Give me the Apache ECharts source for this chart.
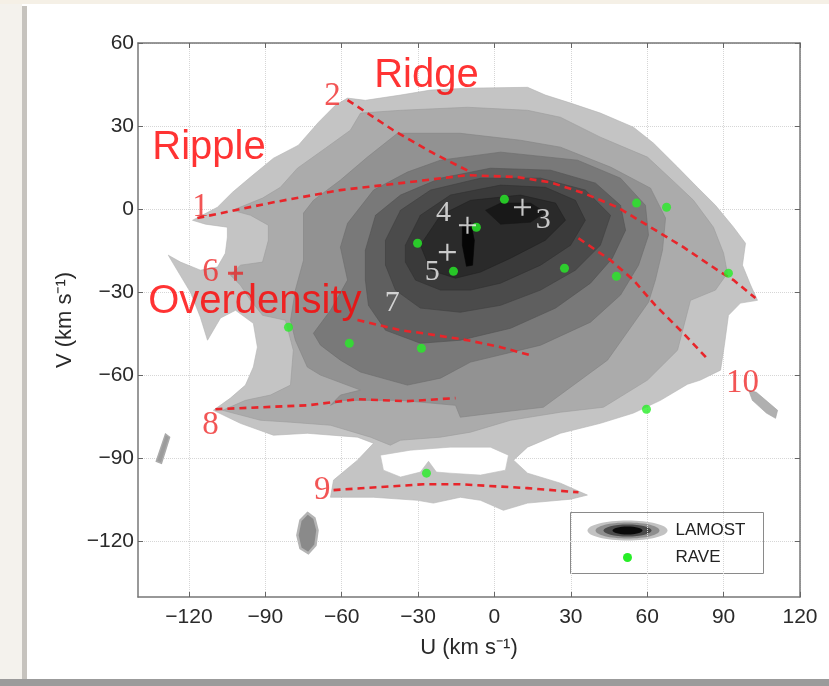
<!DOCTYPE html>
<html><head><meta charset="utf-8">
<script src="https://cdn.jsdelivr.net/npm/echarts@6/dist/echarts.min.js"></script>
<style>html,body{margin:0;padding:0;background:#fff}#c{width:829px;height:686px}</style>
</head><body><div id="c"></div>
<script>
// ---- axis ticks ----
const uTicks = [-120, -90, -60, -30, 0, 30, 60, 90, 120];
const vTicks = [-120, -90, -60, -30, 0, 30, 60];

// ---- LAMOST density contours (U, V in km/s), outer to inner ----
const contourL1 = [[-118.6,-4.0],[-108.8,0.7],[-102.9,6.1],[-95.8,11.6],[-86.8,18.4],[-77.0,23.1],[-69.1,31.4],[-62.5,37.5],[-57.7,40.1],[-50.7,39.3],[-36.9,41.2],[-25.1,43.0],[-10.6,43.7],[13.0,44.0],[20.0,41.2],[29.9,38.3],[41.6,34.7],[54.6,29.6],[62.5,23.8],[71.9,15.2],[79.7,7.9],[86.8,1.4],[93.9,-6.5],[98.6,-12.3],[97.4,-20.2],[100.6,-27.4],[103.3,-32.9],[96.6,-33.9],[91.9,-38.3],[90.3,-49.1],[88.8,-58.1],[80.9,-61.7],[75.8,-63.2],[65.2,-69.0],[54.6,-73.6],[41.6,-77.3],[25.9,-80.9],[13.0,-85.9],[7.5,-90.6],[13.0,-95.3],[25.9,-98.9],[36.5,-103.2],[29.9,-104.7],[13.0,-106.1],[3.5,-108.7],[-5.5,-105.1],[-13.4,-104.0],[-24.0,-106.1],[-30.2,-105.1],[-47.5,-104.0],[-64.4,-104.0],[-63.2,-97.8],[-53.8,-90.6],[-47.5,-84.5],[-53.8,-82.3],[-73.5,-80.9],[-86.8,-81.6],[-99.8,-77.3],[-110.4,-72.6],[-103.7,-68.2],[-97.8,-63.5],[-94.7,-57.0],[-93.1,-49.8],[-94.7,-41.2],[-101.7,-36.5],[-107.6,-39.3],[-112.7,-47.3],[-115.5,-39.0],[-119.4,-30.0],[-126.5,-19.1],[-128.1,-16.6],[-123.3,-19.1],[-115.5,-22.0],[-108.8,-20.9],[-105.7,-15.9],[-104.9,-10.1],[-104.9,-6.5],[-113.5,-5.4]];
const holeL1 = [[-44.8,-88.8],[-33.0,-87.0],[-17.3,-85.9],[-1.6,-85.9],[5.5,-88.8],[4.3,-94.2],[-5.5,-96.0],[-17.3,-95.3],[-22.8,-94.9],[-25.9,-91.0],[-29.1,-94.9],[-36.9,-96.7],[-43.6,-94.2]];
const contourL2 = [[-102.9,-0.4],[-91.1,4.0],[-84.1,7.9],[-77.4,14.8],[-66.4,22.0],[-56.6,28.5],[-52.6,34.7],[-36.9,35.7],[-10.6,36.8],[13.0,35.7],[25.9,33.2],[41.6,26.0],[60.1,18.8],[71.1,9.4],[78.2,3.2],[86.0,-6.5],[90.0,-15.9],[91.5,-23.1],[86.8,-29.2],[77.0,-32.9],[71.9,-50.9],[60.1,-61.7],[42.8,-71.5],[25.9,-73.3],[6.3,-76.2],[-9.4,-80.5],[-21.2,-82.3],[-36.9,-83.4],[-40.9,-85.2],[-48.7,-82.3],[-64.4,-78.0],[-80.1,-76.9],[-91.9,-76.2],[-106.8,-72.6],[-97.8,-69.0],[-88.0,-67.1],[-80.1,-63.5],[-79.0,-50.9],[-82.1,-40.1],[-91.1,-38.3],[-95.8,-32.9],[-99.8,-27.4],[-103.7,-23.8],[-99.8,-20.2],[-91.1,-19.1],[-88.8,-11.2],[-88.8,-5.8],[-95.8,-2.2]];
const contourL3 = [[-75.0,-1.4],[-71.1,3.2],[-60.5,10.5],[-49.9,18.8],[-38.1,27.4],[-13.4,27.4],[10.2,24.9],[25.9,22.4],[45.6,15.2],[61.3,7.6],[67.2,-3.2],[66.0,-14.8],[63.2,-25.6],[60.5,-33.6],[44.4,-54.5],[19.2,-71.5],[2.4,-73.3],[-13.4,-75.1],[-15.3,-70.8],[-36.9,-69.0],[-60.5,-69.0],[-64.4,-70.8],[-60.5,-67.1],[-52.6,-65.3],[-68.3,-59.9],[-73.5,-57.0],[-78.2,-47.3],[-80.1,-40.1],[-78.2,-29.2],[-75.0,-18.4]];
const contourL4 = [[-60.5,-13.7],[-57.7,-5.1],[-47.5,6.9],[-34.2,13.4],[-21.2,17.7],[2.4,20.6],[32.6,17.7],[49.5,11.2],[59.3,1.4],[60.5,-9.4],[56.6,-20.2],[49.5,-31.0],[37.7,-40.8],[18.1,-49.1],[-9.4,-55.2],[-21.2,-61.0],[-34.2,-63.5],[-52.6,-58.8],[-60.5,-54.5],[-68.3,-49.1],[-71.1,-44.8],[-64.4,-36.5],[-57.7,-25.6]];
const contourL5 = [[-50.7,-14.8],[-46.7,-2.2],[-36.9,5.1],[-21.2,11.2],[-1.6,14.8],[22.0,14.1],[39.7,9.4],[49.5,1.4],[51.5,-7.6],[46.3,-17.7],[37.7,-26.7],[24.0,-35.7],[6.3,-43.0],[-13.4,-47.3],[-29.1,-48.4],[-42.8,-43.7],[-49.5,-34.7],[-50.7,-25.6]];
const contourL6 = [[-42.8,-11.2],[-36.9,-0.4],[-25.1,6.9],[-5.5,11.2],[18.1,11.2],[35.7,6.9],[45.6,-2.2],[41.6,-13.0],[31.8,-22.0],[18.1,-29.2],[2.4,-34.7],[-13.4,-37.2],[-29.1,-35.7],[-38.9,-29.2],[-42.8,-20.2]];
const contourL7 = [[-35.0,-13.0],[-29.1,-2.2],[-17.3,5.1],[2.4,8.7],[20.0,7.9],[31.8,3.2],[35.7,-4.0],[29.9,-13.0],[18.1,-20.2],[2.4,-26.7],[-9.4,-29.2],[-21.2,-29.2],[-31.0,-25.6],[-35.0,-19.1]];
const contourL8 = [[-29.1,-13.0],[-21.2,-2.2],[-9.4,3.2],[10.2,5.1],[24.0,2.2],[27.9,-4.0],[20.0,-11.2],[6.3,-17.7],[-5.5,-22.7],[-15.3,-24.9],[-25.1,-22.0]];
const contourL9a = [[-3.5,-0.4],[2.4,2.2],[14.1,2.2],[20.0,-1.1],[14.1,-4.7],[2.4,-5.4]];
const contourL9b = [[-12.6,-5.8],[-9.4,-4.7],[-7.9,-11.2],[-8.6,-20.2],[-11.0,-20.6],[-12.6,-13.0]];
const blobSlash = [[-129.2,-81.2],[-127.6,-82.3],[-130.8,-91.7],[-132.8,-91.0]];
const blobTail = [[99.8,-65.3],[102.9,-66.1],[111.2,-72.6],[110.4,-75.5],[106.8,-73.6],[101.3,-69.0]];
const blobEllipse = [[-73.4,-109.7],[-70.7,-111.6],[-69.5,-115.9],[-70.3,-121.3],[-73.1,-124.2],[-76.2,-122.4],[-77.4,-117.7],[-76.2,-112.3]];

// ---- RAVE moving groups (green points) ----
const raveU = [-80.9, -57.0, -28.7, -30.2, -16.1, -7.1, 3.9, 27.5, 47.9, 55.8, 67.6, 91.9, 59.7, -26.7];
const raveV = [-42.6, -48.4, -50.2, -12.3, -22.4, -6.5, 3.6, -21.3, -24.2, 2.2, 0.7, -23.1, -72.2, -95.3];

// ---- cross markers ----
const whiteCrosses = [[11.0, 0.7], [-10.6, -5.8], [-18.5, -15.5]];
const redCrosses = [[-101.7, -23.1]];

// ---- dashed structures ----
const line1 = [[-116.7,-3.2],[-86.8,2.5],[-60.5,6.9],[-34.2,9.7],[-10.6,12.3],[9.0,11.6],[22.0,9.7],[35.0,5.8],[48.3,0.7],[61.3,-6.5],[74.2,-13.7],[87.6,-22.0],[93.9,-25.6],[102.5,-32.1]];
const line2 = [[-57.7,39.4],[-39.7,28.5],[-24.0,20.2],[-9.4,13.4]];
const line7 = [[-53.8,-40.0],[-36.9,-43.7],[-27.9,-44.8],[-10.6,-47.3],[2.4,-49.8],[14.1,-52.7]];
const line8 = [[-109.6,-72.2],[-73.4,-70.8],[-53.8,-68.6],[-34.2,-69.3],[-15.3,-68.2]];
const line9 = [[-63.2,-101.4],[-27.9,-99.3],[-13.4,-99.3],[13.0,-100.7],[33.0,-102.2]];
const line10 = [[33.0,-10.5],[45.6,-18.4],[54.6,-25.6],[63.2,-34.7],[74.2,-44.8],[84.1,-54.5]];

// ---- annotations [U, V, text] ----
const redNumbers = [[-115.5, 0.7, '1'], [-63.6, 40.8, '2'], [-111.5, -22.7, '6'], [-111.5, -78.0, '8'], [-67.6, -101.4, '9'], [97.4, -62.8, '10']];
const whiteNumbers = [[19.2, -4.0, '3'], [-20.0, -1.4, '4'], [-24.4, -22.7, '5'], [-40.1, -34.0, '7']];
const redWords = [[-26.7, 48.0, 'Ridge'], [-112.1, 22.0, 'Ripple'], [-94.1, -33.6, 'Overdensity']];

const chart = echarts.init(document.getElementById('c'), null, {renderer: 'canvas'});

function polySeries(poly, fill, stroke, z, lw) {
  return {
    type: 'custom', coordinateSystem: 'cartesian2d', silent: true, z: z,
    xAxisIndex: 0, yAxisIndex: 0,
    data: poly, encode: {x: 0, y: 1},
    renderItem: function (params, api) {
      if (params.dataIndex !== 0) return null;
      return {type: 'polygon', shape: {points: poly.map(p => api.coord(p))},
        style: {fill: fill, stroke: stroke, lineWidth: lw == null ? 0.6 : lw}};
    }
  };
}
function dashed(data) {
  return {type: 'line', data: data, symbol: 'none', silent: true, z: 6,
    lineStyle: {color: '#e8252a', width: 2.6, type: [7, 5]}};
}
function textSeries(data, color, font, size, z) {
  return {type: 'scatter', data: data, symbol: 'circle', symbolSize: 0.1, silent: true, z: z,
    itemStyle: {color: 'transparent'},
    label: {show: true, position: 'inside', formatter: p => p.data[2], color: color,
      fontFamily: font, fontSize: size, align: 'center', verticalAlign: 'middle'}};
}
const minus = v => String(v).replace('-', '\u2212');

const series = [
  polySeries(contourL1, '#c4c4c4', '#b4b4b4', 1),
  polySeries(blobTail, '#b0b0b0', '#a0a0a0', 1),
  polySeries(blobSlash, '#9c9c9c', '#aaaaaa', 1, 1.5),
  polySeries(blobEllipse, '#8a8a8a', '#b4b4b4', 1, 2.5),
  polySeries(holeL1, '#ffffff', '#c0c0c0', 1),
  polySeries(contourL2, '#ababab', '#9c9c9c', 1),
  polySeries(contourL3, '#929292', '#838383', 1),
  polySeries(contourL4, '#797979', '#6b6b6b', 1),
  polySeries(contourL5, '#5f5f5f', '#535353', 1),
  polySeries(contourL6, '#4b4b4b', '#404040', 1),
  polySeries(contourL7, '#3a3a3a', '#303030', 1),
  polySeries(contourL8, '#2a2a2a', '#222222', 1),
  polySeries(contourL9a, '#181818', '#181818', 1),
  polySeries(contourL9b, '#050505', '#050505', 1),
  dashed(line1), dashed(line2), dashed(line7), dashed(line8), dashed(line9), dashed(line10),
  {type: 'scatter', name: 'RAVE', data: raveU.map((u, i) => [u, raveV[i]]), symbol: 'circle', symbolSize: 9,
    silent: true, z: 8, itemStyle: {color: '#27ee27'}},
  {type: 'scatter', data: whiteCrosses, silent: true, z: 9, symbolSize: 17,
    symbol: 'path://M7,0h2v7h7v2h-7v7h-2v-7h-7v-2h7z', itemStyle: {color: '#f2f2f2'}},
  {type: 'scatter', data: redCrosses, silent: true, z: 9, symbolSize: 15,
    symbol: 'path://M6,0h3v6h6v3h-6v6h-3v-6h-6v-3h6z', itemStyle: {color: '#e32a2a'}},
  textSeries(redNumbers, '#ef2b2b', '"Liberation Serif", serif', 33, 10),
  textSeries(whiteNumbers, '#f0f0f0', '"Liberation Serif", serif', 30, 10),
  textSeries(redWords, '#ff0000', '"Liberation Sans", Arial, sans-serif', 40, 11)
];

const axisFont = {fontFamily: '"Liberation Sans", Arial, sans-serif', fontSize: 21, color: '#2a2a2a'};
const option = {
  backgroundColor: '#ffffff',
  animation: false,
  grid: {left: 138, top: 43, right: 29, bottom: 89, show: true, backgroundColor: '#ffffff', borderWidth: 0},
  xAxis: [
    {type: 'value', min: -140, max: 120, position: 'bottom',
      name: 'U (km s\u207B\u00B9)', nameLocation: 'middle', nameGap: 40,
      nameTextStyle: {fontFamily: '"Liberation Sans", Arial, sans-serif', fontSize: 22, color: '#2a2a2a'},
      axisLine: {show: true, onZero: false, lineStyle: {color: '#777', width: 1.5}},
      axisTick: {show: true, inside: true, length: 5, customValues: uTicks, lineStyle: {color: '#666'}},
      axisLabel: Object.assign({customValues: uTicks, margin: 10, formatter: minus}, axisFont),
      splitLine: {show: true, lineStyle: {color: '#d6d6d6', type: 'dotted', width: 1}}},
    {type: 'value', min: -140, max: 120, position: 'top',
      axisLine: {show: true, onZero: false, lineStyle: {color: '#777', width: 1.5}},
      axisTick: {show: true, inside: true, length: 5, customValues: uTicks, lineStyle: {color: '#666'}},
      axisLabel: {show: false}, splitLine: {show: false}}
  ],
  yAxis: [
    {type: 'value', min: -140, max: 60, position: 'left',
      name: 'V (km s\u207B\u00B9)', nameLocation: 'middle', nameGap: 62, nameRotate: 90,
      nameTextStyle: {fontFamily: '"Liberation Sans", Arial, sans-serif', fontSize: 22, color: '#2a2a2a'},
      axisLine: {show: true, onZero: false, lineStyle: {color: '#777', width: 1.5}},
      axisTick: {show: true, inside: true, length: 5, customValues: vTicks, lineStyle: {color: '#666'}},
      axisLabel: Object.assign({customValues: vTicks, margin: 4, formatter: minus}, axisFont),
      splitLine: {show: true, lineStyle: {color: '#d6d6d6', type: 'dotted', width: 1}}},
    {type: 'value', min: -140, max: 60, position: 'right',
      axisLine: {show: true, onZero: false, lineStyle: {color: '#777', width: 1.5}},
      axisTick: {show: true, inside: true, length: 5, customValues: vTicks, lineStyle: {color: '#666'}},
      axisLabel: {show: false}, splitLine: {show: false}}
  ],
  series: series,
  graphic: [
    {type: 'rect', shape: {x: 0, y: 0, width: 22, height: 686}, style: {fill: '#f4f2ed'}, silent: true},
    {type: 'rect', shape: {x: 0, y: 0, width: 829, height: 4}, style: {fill: '#f5f0e6'}, silent: true},
    {type: 'rect', shape: {x: 22, y: 6, width: 5, height: 680}, style: {fill: '#c6c3be'}, silent: true},
    {type: 'rect', shape: {x: 0, y: 679, width: 829, height: 7}, style: {fill: '#9b9b9b'}, silent: true},
    {type: 'group', left: 570, top: 512, children: [
      {type: 'rect', shape: {x: 0, y: 0, width: 193, height: 61}, style: {fill: '#ffffff', stroke: '#8a8a8a', lineWidth: 1}},
      {type: 'ellipse', shape: {cx: 57, cy: 18, rx: 40, ry: 10}, style: {fill: '#c2c2c2'}},
      {type: 'ellipse', shape: {cx: 57, cy: 18, rx: 32, ry: 8}, style: {fill: '#8e8e8e'}},
      {type: 'ellipse', shape: {cx: 57, cy: 18, rx: 24, ry: 6}, style: {fill: '#4a4a4a'}},
      {type: 'ellipse', shape: {cx: 57, cy: 18, rx: 15, ry: 4}, style: {fill: '#0a0a0a'}},
      {type: 'circle', shape: {cx: 57, cy: 45, r: 4.5}, style: {fill: '#27ee27'}},
      {type: 'text', x: 105, y: 18, style: {text: 'LAMOST', fill: '#222', font: '17px "Liberation Sans", Arial, sans-serif', verticalAlign: 'middle'}},
      {type: 'text', x: 105, y: 45, style: {text: 'RAVE', fill: '#222', font: '17px "Liberation Sans", Arial, sans-serif', verticalAlign: 'middle'}}
    ]}
  ]
};
chart.setOption(option);
</script>
</body></html>
